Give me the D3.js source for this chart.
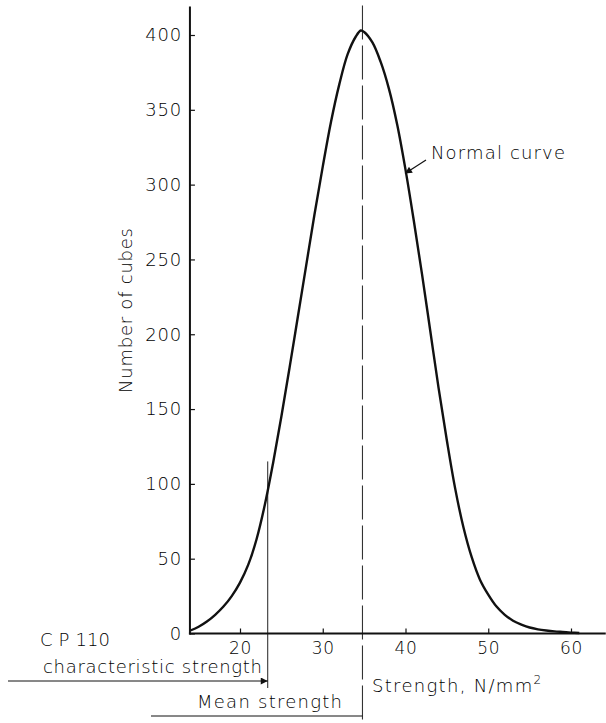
<!DOCTYPE html>
<html>
<head>
<meta charset="utf-8">
<script src="https://cdn.jsdelivr.net/npm/d3@7/dist/d3.min.js"></script>
<style>
  html, body { margin: 0; padding: 0; background: #fff; }
  svg { display: block; }
  text { font-family: "DejaVu Sans", "Liberation Sans", sans-serif; font-weight: 200; fill: #000; }
</style>
</head>
<body>
<svg id="chart" width="606" height="723"></svg>
<script>
// ---- data ----
const strength = [14, 15, 16, 17, 18, 19, 20, 21, 22, 23, 24, 25, 26, 27, 28, 29, 30, 31, 32, 33, 34, 34.6,
                  35, 36, 37, 38, 39, 40, 41, 42, 43, 44, 45, 46, 47, 48, 49, 50, 51, 52, 53, 54, 55, 56, 57, 58, 59, 60, 61];
const cubes    = [2, 4.5, 8, 12.5, 18, 25, 34, 46, 63, 86, 114, 145, 178, 212, 246, 280, 312, 342, 367, 387, 399, 403,
                  402, 395, 382, 364, 340, 310, 276, 240, 202, 164, 129, 97, 71, 51, 36, 26, 18, 12.5, 8.5, 6, 4, 2.8, 2, 1.4, 1, 0.6, 0.3];
const xTicks = [20, 30, 40, 50, 60];
const yTicks = [0, 50, 100, 150, 200, 250, 300, 350, 400];
const meanStrength = 34.8;
const charStrength = 23.35;
const xAxisLabel = "Strength, N/mm";
const yAxisLabel = "Number of cubes";
const curveLabel = "Normal curve";

const svg = d3.select("#chart");
const FS = 18;

const x = d3.scaleLinear().domain([20, 60]).range([240, 571]);
const y = d3.scaleLinear().domain([0, 400]).range([633.5, 35]);
const xMin = 13.95, xMax = 64.2, yMax = 419;

// arrow marker
const defs = svg.append("defs");
defs.append("marker").attr("id", "arr").attr("viewBox", "0 0 10 10")
  .attr("refX", 10).attr("refY", 5).attr("markerWidth", 9).attr("markerHeight", 7)
  .attr("markerUnits", "userSpaceOnUse").attr("orient", "auto")
  .append("path").attr("d", "M0,0 L10,5 L0,10 Z").attr("fill", "#111");

// dashed mean line
svg.append("line")
  .attr("x1", x(meanStrength)).attr("x2", x(meanStrength))
  .attr("y1", y(yMax) - 1).attr("y2", 723)
  .attr("stroke", "#333").attr("stroke-width", 1.1)
  .attr("stroke-dasharray", "34,6");

// characteristic strength vertical line
svg.append("line")
  .attr("x1", x(charStrength)).attr("x2", x(charStrength))
  .attr("y1", y(115)).attr("y2", 688)
  .attr("stroke", "#222").attr("stroke-width", 1);

// axes
const yAxis = d3.axisLeft(y).tickValues(yTicks).tickSize(-5).tickSizeOuter(0).tickPadding(8);
const gy = svg.append("g").attr("transform", `translate(${x(xMin)},0)`).call(yAxis);
gy.select(".domain").remove();
gy.selectAll("text").attr("font-size", FS).attr("font-family", "DejaVu Sans").attr("font-weight", 200).attr("fill", "#000").attr("letter-spacing", 0.8);
gy.selectAll("line").attr("stroke", "#111").attr("stroke-width", 1.2);

const xAxis = d3.axisBottom(x).tickValues(xTicks).tickSize(-5).tickSizeOuter(0).tickPadding(8);
const gx = svg.append("g").attr("transform", `translate(0,${y(0)})`).call(xAxis);
gx.select(".domain").remove();
gx.selectAll("text").attr("font-size", 17).attr("font-family", "DejaVu Sans").attr("font-weight", 200).attr("fill", "#000").attr("letter-spacing", 0.8);
gx.selectAll("line").attr("stroke", "#111").attr("stroke-width", 1.2);

svg.append("line").attr("x1", x(xMin)).attr("x2", x(xMin)).attr("y1", y(yMax)).attr("y2", y(0) + 1)
  .attr("stroke", "#111").attr("stroke-width", 2);
svg.append("line").attr("x1", x(xMin) - 1).attr("x2", x(xMax)).attr("y1", y(0)).attr("y2", y(0))
  .attr("stroke", "#111").attr("stroke-width", 2);

// normal curve
const line = d3.line().x((d, i) => x(strength[i])).y(d => y(d)).curve(d3.curveCatmullRom.alpha(0.5));
svg.append("path").datum(cubes).attr("d", line)
  .attr("fill", "none").attr("stroke", "#111").attr("stroke-width", 2.4);

// labels
svg.append("text").attr("transform", `translate(132,${(228 + 393) / 2}) rotate(-90)`)
  .attr("text-anchor", "middle").attr("font-size", FS)
  .attr("textLength", 165).attr("lengthAdjust", "spacing").text(yAxisLabel);

svg.append("text").attr("x", 431).attr("y", 159).attr("font-size", FS)
  .attr("textLength", 134).attr("lengthAdjust", "spacing").text(curveLabel);
svg.append("line").attr("x1", 426).attr("y1", 160).attr("x2", 405).attr("y2", 173.5)
  .attr("stroke", "#111").attr("stroke-width", 1.2).attr("marker-end", "url(#arr)");

svg.append("text").attr("x", 40).attr("y", 646).attr("font-size", FS)
  .attr("textLength", 70).attr("lengthAdjust", "spacing").text("C P 110");
svg.append("text").attr("x", 43).attr("y", 673).attr("font-size", FS)
  .attr("textLength", 219).attr("lengthAdjust", "spacing").text("characteristic strength");
svg.append("line").attr("x1", 8).attr("x2", x(charStrength)).attr("y1", 681).attr("y2", 681)
  .attr("stroke", "#111").attr("stroke-width", 1).attr("marker-end", "url(#arr)");

svg.append("text").attr("x", 197).attr("y", 708).attr("font-size", FS)
  .attr("textLength", 145).attr("lengthAdjust", "spacing").text("Mean strength");
svg.append("line").attr("x1", 151).attr("x2", x(meanStrength)).attr("y1", 716).attr("y2", 716)
  .attr("stroke", "#111").attr("stroke-width", 1);

const sl = svg.append("text").attr("x", 372).attr("y", 692).attr("font-size", FS).attr("letter-spacing", 1.3);
sl.append("tspan").text(xAxisLabel);
sl.append("tspan").attr("dy", -8).attr("font-size", 12).text("2");
</script>
</body>
</html>
